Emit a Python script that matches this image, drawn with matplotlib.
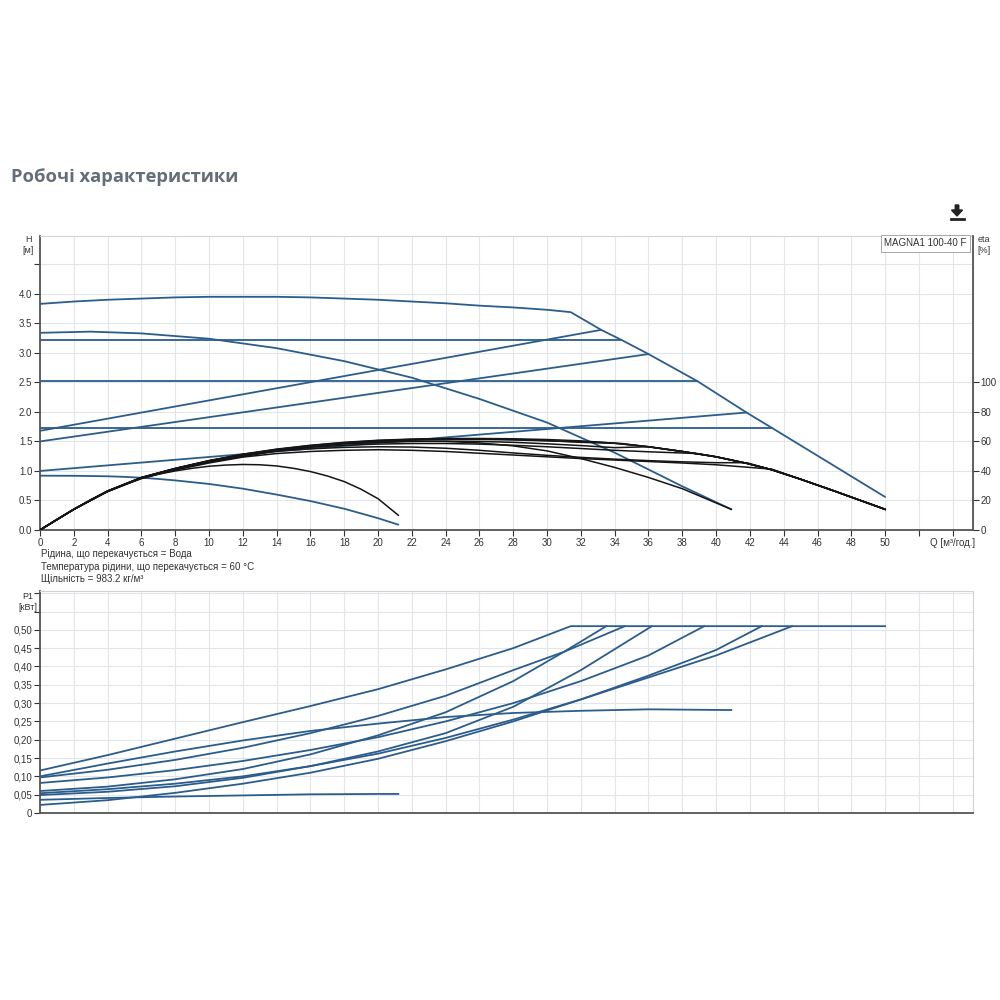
import numpy as np
import matplotlib
matplotlib.use("Agg")
import matplotlib.pyplot as plt
from matplotlib.patches import FancyArrow
from matplotlib.lines import Line2D

plt.rcParams['font.family'] = ['Liberation Sans', 'DejaVu Sans']

# ---- H-Q curves (blue) ----
q_max = [0, 2, 4, 6, 8, 10, 12, 14, 16, 18, 20, 22, 24, 26, 28, 30, 31.4,
         33.2, 34.4, 36, 38.9, 41.8, 43.3, 50]
h_max = [3.83, 3.87, 3.90, 3.92, 3.94, 3.95, 3.95, 3.95, 3.94, 3.92, 3.90, 3.87,
         3.84, 3.80, 3.77, 3.73, 3.69, 3.39, 3.22, 2.98, 2.52, 1.99, 1.73, 0.56]
q_fix = [0, 3, 6, 10, 14, 18, 22, 26, 30, 34, 38, 40.9]
h_fix = [3.34, 3.36, 3.33, 3.24, 3.08, 2.86, 2.58, 2.22, 1.82, 1.31, 0.74, 0.35]
q_min = [0, 2, 4, 5, 6, 7, 8, 10, 12, 14, 16, 18, 20, 21.2]
h_min = [0.92, 0.918, 0.91, 0.90, 0.885, 0.865, 0.84, 0.78, 0.70, 0.60, 0.49, 0.36, 0.20, 0.09]
# proportional pressure lines
q_pp1 = [0, 33.2]; h_pp1 = [1.68, 3.39]
q_pp2 = [0, 36.0]; h_pp2 = [1.50, 2.98]
q_pp3 = [0, 41.8]; h_pp3 = [1.00, 1.99]
# constant pressure lines
q_cp1 = [0, 34.4]; h_cp1 = [3.22, 3.22]
q_cp2 = [0, 38.9]; h_cp2 = [2.52, 2.52]
q_cp3 = [0, 43.3]; h_cp3 = [1.73, 1.73]

# ---- efficiency curves (black), eta in % ----
qe_max = [0, 1, 2, 3, 4, 6, 8, 10, 12, 14, 16, 18, 20, 22, 24, 26, 28, 30, 32, 34, 36,
          38, 40, 41.8, 43.3, 45, 47, 50]
eta_max = [0, 7.2, 14, 20.6, 26.5, 35.6, 41.8, 47, 51.4, 54.8, 57.4, 59.4, 60.8, 61.6,
           62, 62, 61.8, 61.3, 60.4, 58.8, 56.4, 53.2, 49.6, 45.2, 40.8, 34.4, 26.4, 14]
qe_fix = [0, 2, 4, 6, 8, 10, 12, 14, 16, 18, 20, 22, 24, 26, 28, 30, 32, 34, 36, 38, 40.9]
eta_fix = [0, 14, 26.4, 35.5, 41.6, 46.8, 51, 54.2, 56.6, 58.4, 59.6, 60.2, 60, 59,
           57, 53.6, 48.4, 42.4, 35.6, 28, 14]
qe_cp1 = [0, 2, 4, 6, 8, 10, 12, 14, 16, 18, 20, 22, 24, 26, 28, 30, 32, 34.4]
eta_cp1 = [0, 14, 26.4, 35.6, 41.7, 47, 51.2, 54.6, 57.2, 59.2, 60.6, 61.4, 61.8,
           61.8, 61.4, 60.6, 59.4, 58.6]
qe_pp1 = [0, 2, 4, 6, 8, 10, 12, 14, 16, 18, 20, 22, 24, 26, 28, 30, 33.2]
eta_pp1 = [0, 14, 26.3, 35.4, 41.5, 46.8, 51, 54.4, 56.8, 58.8, 60.2, 61, 61.4,
           61.4, 61, 60.4, 59.4]
qe_pp2 = [0, 2, 4, 6, 8, 10, 12, 14, 16, 18, 20, 22, 24, 26, 28, 30, 32, 34, 36]
eta_pp2 = [0, 14, 26.3, 35.4, 41.4, 46.6, 50.6, 54, 56.8, 58.4, 59.4, 60, 60.2, 60,
           59.4, 58.4, 57.2, 55.8, 56.4]
qe_cp2 = [0, 2, 4, 6, 8, 10, 12, 14, 16, 18, 20, 22, 24, 26, 28, 30, 32, 34, 36, 38.9]
eta_cp2 = [0, 14, 26.2, 35.3, 41.2, 46.2, 50.2, 53.6, 56, 57.4, 58.2, 58.6, 58.6,
           58.2, 57.4, 56.4, 55.2, 54, 53, 51.8]
qe_pp3 = [0, 2, 4, 6, 8, 10, 12, 14, 16, 18, 20, 22, 24, 26, 28, 30, 32, 34, 36,
          38, 40, 41.8]
eta_pp3 = [0, 14, 26.2, 35.2, 41, 46, 49.8, 53.4, 55, 56, 56.4, 56.2, 55.4, 54,
           52.2, 50.6, 49.2, 48, 47, 46.2, 45.6, 45.6]
qe_cp3 = [0, 2, 4, 6, 8, 10, 12, 14, 16, 18, 20, 22, 24, 26, 28, 30, 32, 34, 36,
          38, 40, 42, 43.3]
eta_cp3 = [0, 14, 26, 35, 40.6, 45.4, 49.4, 51.8, 53.2, 54, 54.4, 54, 53.2, 52,
           50.8, 49.6, 48.4, 47.4, 46.4, 45.4, 44.2, 42.4, 41.2]
qe_min = [0, 1, 2, 3, 4, 5, 6, 7, 8, 9, 10, 11, 12, 13, 14, 15, 16, 17, 18, 19, 20, 21.2]
eta_min = [0, 7.2, 14, 20.4, 26, 30.8, 34.8, 37.8, 40, 41.8, 43.2, 44, 44.4, 44.2,
           43.4, 41.8, 39.6, 36.6, 32.8, 27.6, 21.2, 10]

# ---- power curves P1 [kW] ----
qp_max = [0, 4, 8, 12, 16, 20, 24, 28, 31.4, 50]
p_max = [0.116, 0.158, 0.203, 0.248, 0.292, 0.338, 0.392, 0.45, 0.51, 0.51]
qp_fix = [0, 4, 8, 12, 16, 20, 24, 28, 32, 36, 40.9]
p_fix = [0.100, 0.135, 0.168, 0.198, 0.224, 0.244, 0.262, 0.273, 0.279, 0.283, 0.281]
qp_cp1 = [0, 4, 8, 12, 16, 20, 24, 28, 31, 34.6]
p_cp1 = [0.097, 0.118, 0.145, 0.178, 0.218, 0.265, 0.32, 0.39, 0.44, 0.51]
qp_pp1 = [0, 4, 8, 12, 16, 20, 24, 28, 31, 33.5]
p_pp1 = [0.060, 0.072, 0.092, 0.12, 0.16, 0.212, 0.275, 0.36, 0.44, 0.51]
qp_pp2 = [0, 4, 8, 12, 16, 20, 24, 28, 32, 36.2]
p_pp2 = [0.049, 0.058, 0.073, 0.096, 0.128, 0.168, 0.218, 0.29, 0.39, 0.51]
qp_cp2 = [0, 4, 8, 12, 16, 20, 24, 28, 32, 36, 39.3]
p_cp2 = [0.082, 0.097, 0.117, 0.142, 0.172, 0.207, 0.25, 0.30, 0.36, 0.43, 0.51]
qp_pp3 = [0, 4, 8, 12, 16, 20, 24, 28, 32, 36, 40, 42.7]
p_pp3 = [0.022, 0.035, 0.055, 0.08, 0.11, 0.148, 0.196, 0.25, 0.31, 0.375, 0.445, 0.51]
qp_cp3 = [0, 4, 8, 12, 16, 20, 24, 28, 32, 36, 40, 44.5]
p_cp3 = [0.054, 0.065, 0.08, 0.10, 0.128, 0.162, 0.205, 0.255, 0.31, 0.37, 0.43, 0.51]
qp_min = [0, 4, 8, 12, 16, 20, 21.2]
p_min = [0.036, 0.041, 0.045, 0.048, 0.051, 0.052, 0.052]

BLUE = '#2b5d8c'
BLACK = '#151515'
GRID = '#e2e6eb'
SPINE = '#555555'
TXT = '#333333'

fig = plt.figure(figsize=(10, 10), dpi=100)
fig.text(0.011, 0.823, 'Робочі характеристики', fontsize=13.2, fontweight='bold',
         color='#636e79', family=['Open Sans', 'DejaVu Sans'], va='center')

# download icon
fig.patches.append(FancyArrow(0.957, 0.795, 0, -0.005, width=0.0035, head_width=0.011,
                              head_length=0.006, length_includes_head=False,
                              transform=fig.transFigure, color='#222', figure=fig))
fig.lines.append(Line2D([0.951, 0.964], [0.7815, 0.7815], lw=2, color='#222',
                        transform=fig.transFigure, figure=fig))


def style_axes(a):
    a.set_facecolor('white')
    for s in ('top', 'right'):
        a.spines[s].set_color('#cfd4da')
        a.spines[s].set_linewidth(0.8)
    for s in ('left', 'bottom'):
        a.spines[s].set_color(SPINE)
        a.spines[s].set_linewidth(1.3)
    a.grid(True, color=GRID, lw=0.8)
    a.set_axisbelow(True)
    a.tick_params(labelsize=7, colors=TXT, length=4, width=0.8, pad=1.5)


xt = np.arange(0, 56, 2)

# ---------------- top chart ----------------
ax = fig.add_axes([0.04, 0.47, 0.933, 0.294])
style_axes(ax)
ax.set_xlim(0, 55.2)
ax.set_ylim(0, 4.98)
ax.set_xticks(xt)
ax.set_xticklabels([str(v) if v <= 50 else ('Q [м³/год.]' if v == 54 else '') for v in xt])
yt = np.arange(0, 4.6, 0.5)
ax.set_yticks(yt)
ax.set_yticklabels(['%.1f' % v if v < 4.2 else '' for v in yt])

for q, h in [(q_max, h_max), (q_fix, h_fix), (q_min, h_min), (q_pp1, h_pp1),
             (q_pp2, h_pp2), (q_pp3, h_pp3), (q_cp1, h_cp1), (q_cp2, h_cp2),
             (q_cp3, h_cp3)]:
    ax.plot(q, h, color=BLUE, lw=1.3, solid_capstyle='round')

ax2 = ax.twinx()
ax2.set_ylim(0, 4.98 * 40)
ax2.set_yticks(np.arange(0, 101, 20))
ax2.spines['right'].set_color(SPINE)
ax2.spines['right'].set_linewidth(1.3)
for s in ('top', 'left', 'bottom'):
    ax2.spines[s].set_visible(False)
ax2.tick_params(labelsize=7, colors=TXT, length=4, width=0.8, pad=1.5)

eff = [(qe_fix, eta_fix, False), (qe_cp1, eta_cp1, True), (qe_pp1, eta_pp1, True),
       (qe_pp2, eta_pp2, True), (qe_cp2, eta_cp2, True), (qe_pp3, eta_pp3, True),
       (qe_cp3, eta_cp3, True), (qe_min, eta_min, False), (qe_max, eta_max, False)]
qm = np.array(qe_max)
em = np.array(eta_max)
for q, e, follow in eff:
    q = list(q)
    e = list(e)
    if follow:
        tail = qm > q[-1] + 0.05
        q = q + list(qm[tail])
        e = e + list(em[tail])
    ax2.plot(q, e, color=BLACK, lw=1.1)

ax.text(0.949, 0.975, 'MAGNA1 100-40 F', transform=ax.transAxes, ha='center', va='center',
        fontsize=7, color=TXT,
        bbox=dict(boxstyle='square,pad=0.35', fc='white', ec='#999999', lw=0.6))

fig.text(0.028, 0.755, 'H\n[м]', ha='center', va='center', fontsize=6.5, color=TXT,
         linespacing=1.2)
fig.text(0.984, 0.755, 'eta\n[%]', ha='center', va='center', fontsize=6.5, color=TXT,
         linespacing=1.2)

info = ['Рідина, що перекачується = Вода',
        'Температура рідини, що перекачується = 60 °C',
        'Щільність = 983.2 кг/м³']
for i, s in enumerate(info):
    fig.text(0.041, 0.446 - i * 0.0125, s, fontsize=7, color=TXT, va='center')

# ---------------- bottom chart ----------------
bx = fig.add_axes([0.04, 0.187, 0.933, 0.222])
style_axes(bx)
bx.set_xlim(0, 55.2)
bx.set_ylim(0, 0.606)
bx.set_xticks(xt)
bx.set_xticklabels([])
bx.tick_params(axis='x', length=0)
pt = np.arange(0, 0.601, 0.05)
bx.set_yticks(pt)
bx.set_yticklabels(['0' if v == 0 else ('%.2f' % v).replace('.', ',') if v < 0.52 else ''
                    for v in pt])

for q, p in [(qp_max, p_max), (qp_fix, p_fix), (qp_cp1, p_cp1), (qp_pp1, p_pp1),
             (qp_pp2, p_pp2), (qp_cp2, p_cp2), (qp_pp3, p_pp3), (qp_cp3, p_cp3),
             (qp_min, p_min)]:
    bx.plot(q, p, color=BLUE, lw=1.3)

fig.text(0.028, 0.398, 'P1\n[кВт]', ha='center', va='center', fontsize=6.5, color=TXT,
         linespacing=1.2)

fig.savefig('out.png', dpi=100, facecolor='white')
